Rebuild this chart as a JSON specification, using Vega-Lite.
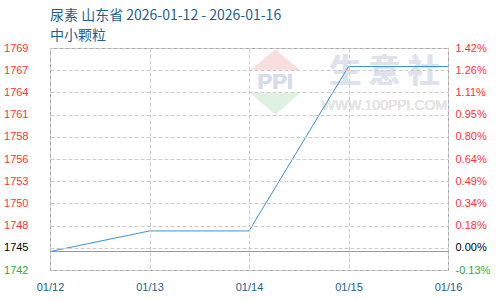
{
  "$schema": "https://vega.github.io/schema/vega-lite/v6.json",
  "width": 398,
  "height": 222,
  "autosize": {"type": "none"},
  "padding": {"left": 50, "right": 52, "top": 48, "bottom": 30},
  "background": "#ffffff",
  "config": {
    "view": {"stroke": "#999999", "strokeWidth": 1},
    "axis": {"labelFont": "Liberation Sans", "labelFontSize": 11, "ticks": false, "domain": false}
  },
  "title": {
    "text": "尿素 山东省 2026-01-12 - 2026-01-16",
    "subtitle": "中小颗粒",
    "anchor": "start",
    "frame": "group",
    "font": "Noto Sans CJK SC",
    "fontSize": 14,
    "fontWeight": "normal",
    "color": "#1f5f8f",
    "subtitleFont": "Noto Sans CJK SC",
    "subtitleFontSize": 14,
    "subtitleColor": "#1f5f8f",
    "subtitlePadding": 6,
    "offset": -1
  },
  "data": {
    "values": [
      {"date": "2026-01-12", "price": 1745},
      {"date": "2026-01-13", "price": 1747.5},
      {"date": "2026-01-14", "price": 1747.5},
      {"date": "2026-01-15", "price": 1767.5},
      {"date": "2026-01-16", "price": 1767.5}
    ]
  },
  "layer": [
    {
      "mark": {"type": "point", "shape": "M-1,0.42L0,-0.42L1,0.42Z", "filled": true, "size": 2304, "color": "#f9dede", "opacity": 1, "strokeWidth": 0},
      "encoding": {
        "x": {"datum": {"year": 2026, "month": 1, "date": 14, "hours": 6, "minutes": 20, "utc": true}, "type": "temporal"},
        "y": {"datum": 1768.3, "type": "quantitative", "scale": {"domain": [1742.75, 1769.75], "nice": false, "zero": false}, "axis": null}
      }
    },
    {
      "mark": {"type": "point", "shape": "M-1,-0.44L1,-0.44L0,0.44Z", "filled": true, "size": 2304, "color": "#dff1df", "opacity": 1, "strokeWidth": 0},
      "encoding": {
        "x": {"datum": {"year": 2026, "month": 1, "date": 14, "hours": 6, "minutes": 20, "utc": true}, "type": "temporal"},
        "y": {"datum": 1762.95, "type": "quantitative", "scale": {"domain": [1742.75, 1769.75], "nice": false, "zero": false}, "axis": null}
      }
    },
    {
      "mark": {"type": "text", "text": "PPI", "font": "Liberation Sans", "fontSize": 22, "fontWeight": "bold", "color": "#d6dcea", "align": "center", "baseline": "middle"},
      "encoding": {
        "x": {"datum": {"year": 2026, "month": 1, "date": 14, "hours": 6, "minutes": 20, "utc": true}, "type": "temporal"},
        "y": {"datum": 1765.6, "type": "quantitative", "scale": {"domain": [1742.75, 1769.75], "nice": false, "zero": false}, "axis": null}
      }
    },
    {
      "mark": {"type": "text", "text": "生 意 社", "font": "Noto Sans CJK SC", "fontSize": 32, "fontWeight": "bold", "color": "#dde2ed", "align": "center", "baseline": "middle"},
      "encoding": {
        "x": {"datum": {"year": 2026, "month": 1, "date": 15, "hours": 8, "minutes": 40, "utc": true}, "type": "temporal"},
        "y": {"datum": 1766.8, "type": "quantitative", "scale": {"domain": [1742.75, 1769.75], "nice": false, "zero": false}, "axis": null}
      }
    },
    {
      "mark": {"type": "text", "text": "WWW.100PPI.COM", "font": "Liberation Sans", "fontSize": 14, "color": "#e4e4e4", "align": "center", "baseline": "middle"},
      "encoding": {
        "x": {"datum": {"year": 2026, "month": 1, "date": 15, "hours": 8, "minutes": 40, "utc": true}, "type": "temporal"},
        "y": {"datum": 1762.7, "type": "quantitative", "scale": {"domain": [1742.75, 1769.75], "nice": false, "zero": false}, "axis": null}
      }
    },
    {
      "mark": {"type": "line", "color": "#3a93d2", "strokeWidth": 1},
      "encoding": {
        "x": {
          "field": "date",
          "type": "temporal",
          "scale": {"type": "utc", "nice": false},
          "axis": {
            "format": "%m/%d",
            "values": [
              {"year": 2026, "month": 1, "date": 12, "utc": true},
              {"year": 2026, "month": 1, "date": 13, "utc": true},
              {"year": 2026, "month": 1, "date": 14, "utc": true},
              {"year": 2026, "month": 1, "date": 15, "utc": true},
              {"year": 2026, "month": 1, "date": 16, "utc": true}
            ],
            "title": null,
            "labelColor": "#1f5f8f",
            "labelPadding": 11,
            "labelFlush": false,
            "labelOverlap": false,
            "grid": true,
            "gridColor": "#cccccc",
            "gridDash": [4, 2],
            "zindex": 1
          }
        },
        "y": {
          "field": "price",
          "type": "quantitative",
          "scale": {"domain": [1742.75, 1769.75], "nice": false, "zero": false},
          "axis": {
            "title": null,
            "values": [1742.75, 1745.45, 1748.15, 1750.85, 1753.55, 1756.25, 1758.95, 1761.65, 1764.35, 1767.05, 1769.75],
            "labelExpr": "floor(datum.value)",
            "labelColor": {"expr": "datum.value < 1745 ? '#33aa33' : (datum.value < 1746 ? '#000000' : '#ff3333')"},
            "labelPadding": 22,
            "labelOverlap": false,
            "labelFlush": false,
            "grid": true,
            "gridColor": "#cccccc",
            "gridDash": [4, 2],
            "zindex": 1
          }
        }
      }
    },
    {
      "mark": {"type": "rule", "color": "#999999", "strokeWidth": 1},
      "encoding": {
        "y": {
          "datum": 1745,
          "type": "quantitative",
          "scale": {"domain": [1742.75, 1769.75], "nice": false, "zero": false},
          "axis": {
            "orient": "right",
            "title": null,
            "values": [1742.75, 1745.45, 1748.15, 1750.85, 1753.55, 1756.25, 1758.95, 1761.65, 1764.35, 1767.05, 1769.75],
            "labelExpr": "datum.value > 1745 && datum.value < 1746 ? '0.00%' : (datum.value < 1745 ? '-' + format((1 - datum.value / 1745) * 100, '.2f') + '%' : format((datum.value / 1745 - 1) * 100, '.2f') + '%')",
            "labelColor": {"expr": "datum.value < 1745 ? '#33aa33' : (datum.value < 1746 ? '#000000' : '#ff3333')"},
            "labelPadding": 7,
            "labelOverlap": false,
            "labelFlush": false,
            "grid": false
          }
        }
      }
    }
  ],
  "resolve": {"scale": {"y": "independent"}}
}
